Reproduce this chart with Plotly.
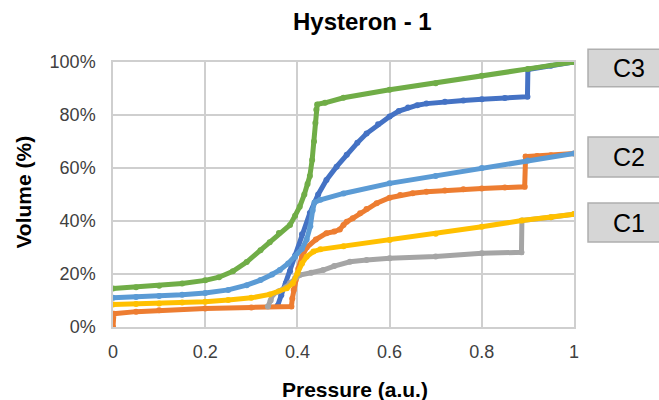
import plotly.graph_objects as go

# ---- data ----
blue_x = [0.357, 0.365, 0.375, 0.384, 0.395, 0.41, 0.427, 0.445, 0.463, 0.485, 0.507, 0.53, 0.55,
          0.575, 0.6, 0.62, 0.64, 0.66, 0.68, 0.72, 0.76, 0.80, 0.85, 0.899, 0.90, 0.95, 1.0]
blue_y = [8, 12, 16.5, 21, 27, 35, 43, 50, 55.5, 60.5, 65, 69.5, 73,
          76.5, 79.4, 81.5, 82.8, 83.7, 84.3, 85, 85.5, 85.9, 86.4, 86.9, 97.2, 98.6, 100]

orange_x = [0, 0.002, 0.05, 0.1, 0.2, 0.3, 0.387, 0.389, 0.392, 0.396, 0.402, 0.41, 0.42, 0.44,
            0.463, 0.48, 0.492, 0.5, 0.507, 0.52, 0.536, 0.55, 0.572, 0.6, 0.623, 0.65, 0.68,
            0.72, 0.76, 0.8, 0.85, 0.893, 0.895, 0.92, 0.95, 1.0]
orange_y = [0, 5, 5.8, 6.3, 7, 7.4, 7.7, 10.8, 14, 17.7, 22, 26.5, 30, 33,
            35.4, 36, 36.8, 38.5, 39.7, 41, 42.9, 44.5, 46.7, 48.8, 49.8, 50.5, 51,
            51.5, 52, 52.3, 52.6, 52.9, 64.3, 64.5, 64.8, 65.5]

gray_x = [0.336, 0.342, 0.347, 0.36, 0.375, 0.384, 0.395, 0.405, 0.43, 0.456, 0.48, 0.514, 0.55,
          0.6, 0.7, 0.8, 0.886, 0.887, 0.95, 1.0]
gray_y = [7.7, 10, 12.3, 13.5, 15, 16.6, 18.5, 19.6, 20.5, 21.5, 23, 24.6, 25.3,
          25.9, 26.6, 27.8, 28.2, 40.2, 41.4, 42.6]

yellow_x = [0, 0.05, 0.1, 0.15, 0.2, 0.25, 0.3, 0.34, 0.377, 0.39, 0.4, 0.41, 0.42, 0.435, 0.45,
            0.5, 0.6, 0.7, 0.8, 0.887, 0.95, 1.0]
yellow_y = [8.5, 8.7, 8.9, 9.2, 9.5, 10.2, 11, 12.3, 14.6, 16.5, 20.2, 24, 26.5, 28.5, 29.3,
            30.5, 32.8, 35.2, 37.8, 40.2, 41.4, 42.6]

lblue_x = [0, 0.05, 0.1, 0.15, 0.2, 0.25, 0.29, 0.32, 0.345, 0.362, 0.38, 0.395, 0.41, 0.42,
           0.428, 0.433, 0.437, 0.45, 0.5, 0.6, 0.7, 0.8, 0.9, 1.0]
lblue_y = [11, 11.3, 11.7, 12.2, 12.8, 14, 15.8, 17.7, 19.8, 21.5, 24, 26.5, 29.5, 33,
           38, 44, 47, 48, 50.4, 54.2, 57, 60, 62.8, 65.5]

green_x = [0, 0.05, 0.1, 0.15, 0.2, 0.23, 0.26, 0.29, 0.32, 0.34, 0.36, 0.384, 0.395, 0.405,
           0.415, 0.422, 0.427, 0.432, 0.436, 0.439, 0.441, 0.443, 0.46, 0.5, 0.6, 0.7, 0.8, 0.9, 1.0]
green_y = [14.5, 15, 15.6, 16.4, 17.6, 18.8, 21, 24.5, 29, 32, 35.5, 38.5, 42, 45.4,
           50, 54, 57, 63, 70, 77, 82, 84, 84.6, 86.5, 89.5, 92, 94.8, 97.4, 100]

series = [
    (blue_x, blue_y, "#4472C4"),
    (orange_x, orange_y, "#ED7D31"),
    (gray_x, gray_y, "#A5A5A5"),
    (yellow_x, yellow_y, "#FFC000"),
    (lblue_x, lblue_y, "#5B9BD5"),
    (green_x, green_y, "#70AD47"),
]

x_ticks = [0, 0.2, 0.4, 0.6, 0.8, 1]
x_tick_text = ["0", "0.2", "0.4", "0.6", "0.8", "1"]
y_ticks = [0, 20, 40, 60, 80, 100]
y_tick_text = ["0%", "20%", "40%", "60%", "80%", "100%"]

labels = ["C3", "C2", "C1"]
label_y = [0.977, 0.6415, 0.394]
label_box = [(0.907, 1.048), (0.566, 0.717), (0.321, 0.468)]

FONT = "Liberation Sans, Arial, sans-serif"

fig = go.Figure()
for xs, ys, col in series:
    fig.add_trace(go.Scatter(
        x=xs, y=ys, mode="lines+markers",
        line=dict(color=col, width=5),
        marker=dict(color=col, size=6),
        showlegend=False, hoverinfo="skip",
    ))

fig.update_layout(
    width=659, height=400,
    margin=dict(l=113, r=85, t=62, b=73),
    paper_bgcolor="white", plot_bgcolor="white",
    font=dict(family=FONT, size=18, color="#404040"),
)
fig.update_xaxes(
    range=[0, 1], tickvals=x_ticks, ticktext=x_tick_text,
    showgrid=True, gridcolor="#CFCFCF", gridwidth=1.5,
    showline=True, mirror=True, linecolor="#CFCFCF", linewidth=1.5,
    zeroline=False, ticks="outside", ticklen=8, tickcolor="rgba(0,0,0,0)",
    tickfont=dict(family=FONT, size=18, color="#404040"),
)
fig.update_yaxes(
    range=[0, 100], tickvals=y_ticks, ticktext=y_tick_text,
    showgrid=True, gridcolor="#CFCFCF", gridwidth=1.5,
    showline=True, mirror=True, linecolor="#CFCFCF", linewidth=1.5,
    zeroline=False, ticks="outside", ticklen=12, tickcolor="rgba(0,0,0,0)",
    tickfont=dict(family=FONT, size=18, color="#404040"),
)

anns = [
    dict(text="<b>Hysteron - 1</b>", x=0.542, y=1.151, xref="paper", yref="paper",
         showarrow=False, xanchor="center", yanchor="middle",
         font=dict(family=FONT, size=24, color="black")),
    dict(text="<b>Pressure (a.u.)</b>", x=0.525, y=-0.234, xref="paper", yref="paper",
         showarrow=False, xanchor="center", yanchor="middle",
         font=dict(family=FONT, size=21, color="black")),
    dict(text="<b>Volume (%)</b>", x=-0.195, y=0.5075, xref="paper", yref="paper",
         showarrow=False, xanchor="center", yanchor="middle", textangle=-90,
         font=dict(family=FONT, size=21, color="black")),
]
shapes = []
for lab, ly, (b0, b1) in zip(labels, label_y, label_box):
    shapes.append(dict(type="rect", xref="paper", yref="paper",
                       x0=1.0304, x1=1.2, y0=b0, y1=b1,
                       fillcolor="#D6D6D6", line=dict(color="#AFAFAF", width=1.5), layer="above"))
    anns.append(dict(text=lab, x=1.119, y=ly, xref="paper", yref="paper",
                     showarrow=False, xanchor="center", yanchor="middle",
                     font=dict(family=FONT, size=25, color="black")))

fig.update_layout(annotations=anns, shapes=shapes)
fig.write_html("out.html")
